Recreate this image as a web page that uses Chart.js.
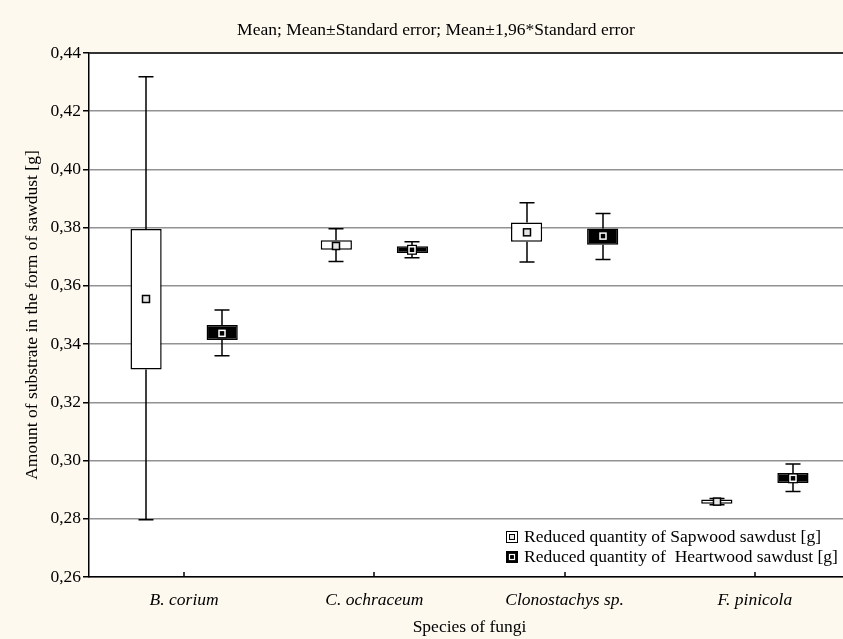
<!DOCTYPE html>
<html>
<head>
<meta charset="utf-8">
<script src="https://cdn.jsdelivr.net/npm/chart.js@4.4.0/dist/chart.umd.min.js"></script>
<style>
  html, body { margin: 0; padding: 0; background: #fdf9ee; overflow: hidden; }
  #wrap { width: 843px; height: 639px; overflow: hidden; }
  canvas { display: block; }
</style>
</head>
<body>
<div id="wrap"><canvas id="chart" width="870" height="639"></canvas></div>
<script>
// categories and values
const categories = ['B. corium', 'C. ochraceum', 'Clonostachys sp.', 'F. pinicola'];

// Sapwood: mean, mean±SE (box), mean±1.96*SE (whiskers)
const sapMean      = [0.3555, 0.3737, 0.3784, 0.2859];
const sapBoxLow    = [0.3313, 0.3724, 0.3752, 0.2852];
const sapBoxHigh   = [0.3795, 0.3757, 0.3818, 0.2866];
const sapWhiskLow  = [0.2797, 0.3684, 0.3682, 0.2848];
const sapWhiskHigh = [0.4318, 0.3796, 0.3886, 0.2870];

// Heartwood
const heartMean      = [0.3437, 0.3724, 0.3771, 0.2939];
const heartBoxLow    = [0.3414, 0.3713, 0.3741, 0.2923];
const heartBoxHigh   = [0.3466, 0.3736, 0.3797, 0.2957];
const heartWhiskLow  = [0.3360, 0.3697, 0.3691, 0.2894];
const heartWhiskHigh = [0.3517, 0.3752, 0.3849, 0.2988];

const yTicks = [0.26, 0.28, 0.30, 0.32, 0.34, 0.36, 0.38, 0.40, 0.42, 0.44];
const yTickLabels = ['0,26', '0,28', '0,30', '0,32', '0,34', '0,36', '0,38', '0,40', '0,42', '0,44'];

const titleText = 'Mean; Mean\u00b1Standard error; Mean\u00b11,96*Standard error';
const legendLabels = ['Reduced quantity of Sapwood sawdust [g]', 'Reduced quantity of  Heartwood sawdust [g]'];

const FONT = '"Liberation Serif", "Times New Roman", serif';
const FS = 17.5;
const CREAM = '#fdf9ee';

const series = [
  { mean: sapMean, lo: sapBoxLow, hi: sapBoxHigh, wlo: sapWhiskLow, whi: sapWhiskHigh, fill: '#ffffff' },
  { mean: heartMean, lo: heartBoxLow, hi: heartBoxHigh, wlo: heartWhiskLow, whi: heartWhiskHigh, fill: '#000000' }
];

function drawMarker(ctx, x, y, dark) {
  if (dark) {
    ctx.fillStyle = '#000';
    ctx.fillRect(x - 5, y - 5, 10, 10);
    ctx.strokeStyle = '#fff';
    ctx.lineWidth = 1.5;
    ctx.strokeRect(x - 3, y - 3, 6, 6);
  } else {
    ctx.fillStyle = '#e4e4e4';
    ctx.fillRect(x - 3.5, y - 3.5, 7, 7);
    ctx.strokeStyle = '#000';
    ctx.lineWidth = 1.5;
    ctx.strokeRect(x - 3.5, y - 3.5, 7, 7);
  }
}

const boxPlot = {
  id: 'boxPlot',
  beforeDraw(chart) {
    const { ctx, chartArea: a } = chart;
    ctx.save();
    ctx.fillStyle = CREAM;
    ctx.fillRect(0, 0, chart.width, chart.height);
    ctx.fillStyle = '#fff';
    ctx.fillRect(a.left, a.top, a.right - a.left, a.bottom - a.top);
    ctx.restore();
  },
  afterDatasetsDraw(chart) {
    const { ctx } = chart;
    const ys = chart.scales.y;
    ctx.save();
    series.forEach((s, i) => {
      chart.getDatasetMeta(i).data.forEach((bar, j) => {
        const x = Math.round(bar.x);
        const pLo = ys.getPixelForValue(s.lo[j]);
        const pHi = ys.getPixelForValue(s.hi[j]);
        const wLo = ys.getPixelForValue(s.wlo[j]);
        const wHi = ys.getPixelForValue(s.whi[j]);
        ctx.strokeStyle = '#000';
        ctx.lineWidth = 1.5;
        ctx.beginPath();
        ctx.moveTo(x, pHi); ctx.lineTo(x, wHi);
        ctx.moveTo(x - 7.5, wHi); ctx.lineTo(x + 7.5, wHi);
        ctx.moveTo(x, pLo); ctx.lineTo(x, wLo);
        ctx.moveTo(x - 7.5, wLo); ctx.lineTo(x + 7.5, wLo);
        ctx.stroke();
        drawMarker(ctx, x, ys.getPixelForValue(s.mean[j]), i === 1);
      });
    });
    ctx.restore();
  },
  afterDraw(chart) {
    const { ctx, chartArea: a } = chart;
    const xs = chart.scales.x;
    ctx.save();
    // top frame line
    ctx.strokeStyle = '#333';
    ctx.lineWidth = 2;
    ctx.beginPath();
    ctx.moveTo(a.left, a.top); ctx.lineTo(a.right, a.top);
    ctx.stroke();
    // x tick marks pointing inward
    ctx.strokeStyle = '#000';
    ctx.lineWidth = 1.5;
    ctx.beginPath();
    categories.forEach((c, i) => {
      const x = Math.round(xs.getPixelForValue(i));
      ctx.moveTo(x, a.bottom); ctx.lineTo(x, a.bottom - 5);
    });
    ctx.stroke();
    // legend in lower right corner
    ctx.font = FS + 'px ' + FONT;
    ctx.textBaseline = 'middle';
    legendLabels.forEach((t, i) => {
      const ly = 537 + i * 20;
      const lx = 506;
      if (i === 0) {
        ctx.fillStyle = '#fff';
        ctx.fillRect(lx, ly - 6, 12, 12);
        ctx.strokeStyle = '#000';
        ctx.lineWidth = 1;
        ctx.strokeRect(lx + 0.5, ly - 5.5, 11, 11);
        ctx.fillStyle = '#e4e4e4';
        ctx.fillRect(lx + 3, ly - 3, 6, 6);
        ctx.strokeRect(lx + 3.5, ly - 2.5, 5, 5);
      } else {
        ctx.fillStyle = '#000';
        ctx.fillRect(lx, ly - 6, 12, 12);
        ctx.strokeStyle = '#fff';
        ctx.lineWidth = 1.2;
        ctx.strokeRect(lx + 3.5, ly - 2.5, 5, 5);
      }
      ctx.fillStyle = '#000';
      ctx.fillText(t, lx + 18, ly);
    });
    ctx.restore();
  }
};

new Chart(document.getElementById('chart'), {
  type: 'bar',
  data: {
    labels: categories,
    datasets: series.map((s, i) => ({
      label: legendLabels[i],
      data: s.lo.map((v, j) => [v, s.hi[j]]),
      backgroundColor: s.fill,
      borderColor: '#000',
      borderWidth: 1.5,
      borderSkipped: false,
      barPercentage: 0.41,
      categoryPercentage: 0.8
    }))
  },
  options: {
    responsive: false,
    animation: false,
    layout: { padding: { left: 22, right: 20, top: 0, bottom: 0 } },
    plugins: {
      legend: { display: false },
      tooltip: { enabled: false },
      title: {
        display: true,
        text: titleText,
        color: '#000',
        font: { family: FONT, size: FS, weight: 'normal' },
        padding: { top: 20, bottom: 12 }
      }
    },
    scales: {
      x: {
        type: 'category',
        grid: { display: false },
        border: { color: '#000', width: 1.5 },
        ticks: { color: '#000', padding: 5, font: { family: FONT, size: FS, style: 'italic' } },
        title: { display: true, text: 'Species of fungi', color: '#000', padding: { top: 0, bottom: 1 },
                 font: { family: FONT, size: FS } },
        afterFit(scale) { scale.height = 62; }
      },
      y: {
        min: 0.26,
        max: 0.44,
        afterBuildTicks(scale) { scale.ticks = yTicks.map(v => ({ value: v })); },
        grid: { color: '#929292', lineWidth: 1.5, tickColor: '#000', tickLength: 6 },
        border: { color: '#000', width: 1.5 },
        ticks: {
          color: '#000', padding: 2,
          font: { family: FONT, size: FS },
          callback: (v, i) => yTickLabels[i]
        },
        title: { display: true, text: 'Amount of substrate in the form of sawdust [g]', color: '#000',
                 padding: { top: 0, bottom: 0 }, font: { family: FONT, size: FS } },
        afterFit(scale) { scale.width = 67; }
      }
    }
  },
  plugins: [boxPlot]
});
</script>
</body>
</html>
